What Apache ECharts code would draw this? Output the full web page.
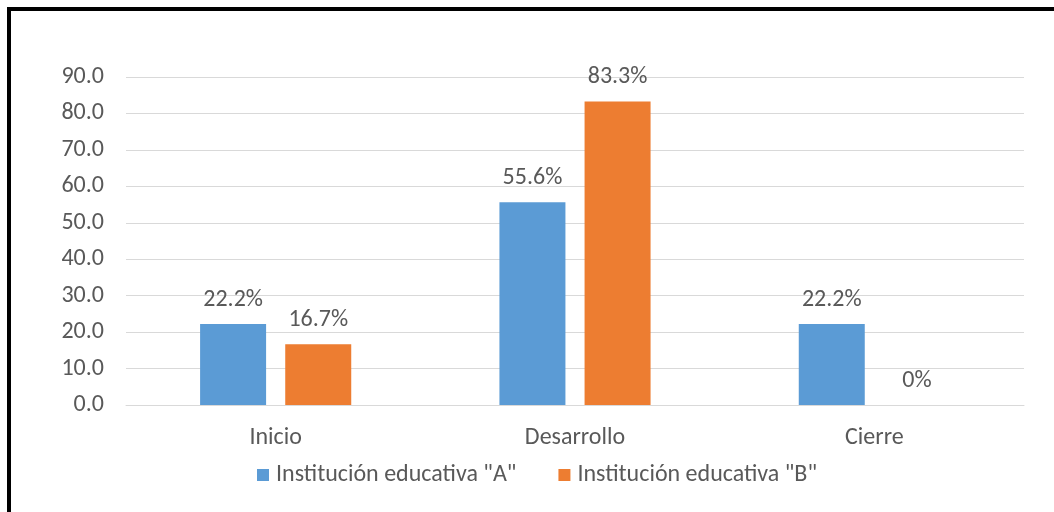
<!DOCTYPE html>
<html>
<head>
<meta charset="utf-8">
<script src="https://cdn.jsdelivr.net/npm/echarts@6/dist/echarts.min.js"></script>
<style>
  html, body { margin: 0; padding: 0; background: #fff; overflow: hidden; }
  #frame { position: absolute; left: 7px; top: 7px; width: 1100px; height: 600px;
           border: 4px solid #000; box-sizing: border-box; }
  #chart { position: absolute; left: 0; top: 0; width: 1054px; height: 512px; }
</style>
</head>
<body>
<div id="frame"></div>
<div id="chart"></div>
<script>
const categories = ['Inicio', 'Desarrollo', 'Cierre'];
const seriesNames = ['Institución educativa "A"', 'Institución educativa "B"'];
const valuesA = [22.2, 55.6, 22.2];
const valuesB = [16.7, 83.3, 0];

const font = 'Calibri, Carlito, "Open Sans", sans-serif';
const textColor = '#595959';
const fontSize = 24;

const chart = echarts.init(document.getElementById('chart'), null, { renderer: 'canvas' });

const label = {
  show: true,
  position: 'top',
  distance: 12,
  color: textColor,
  fontSize: fontSize,
  fontFamily: font,
  formatter: p => p.value + '%'
};

chart.setOption({
  animation: false,
  textStyle: { fontFamily: font },
  grid: { left: 126, right: 30, top: 77, bottom: 107, containLabel: false },
  legend: {
    bottom: 20,
    left: 252,
    itemWidth: 12,
    itemHeight: 12,
    itemGap: 42,
    icon: 'rect',
    textStyle: { color: textColor, fontSize: fontSize, fontFamily: font, padding: [0, 0, 0, 2] },
    data: seriesNames
  },
  xAxis: {
    type: 'category',
    data: categories,
    axisLine: { lineStyle: { color: '#d9d9d9', width: 1 } },
    axisTick: { show: false },
    axisLabel: { color: textColor, fontSize: fontSize, fontFamily: font, margin: 21 }
  },
  yAxis: {
    type: 'value',
    min: 0,
    max: 90,
    interval: 10,
    axisLine: { show: false },
    axisTick: { show: false },
    splitLine: { lineStyle: { color: '#d9d9d9', width: 1 } },
    axisLabel: { color: textColor, fontSize: fontSize, fontFamily: font, margin: 22,
                 formatter: v => v.toFixed(1) }
  },
  series: [
    { name: seriesNames[0], type: 'bar', data: valuesA, barWidth: 66, barGap: '29%',
      itemStyle: { color: '#5b9bd5' }, label },
    { name: seriesNames[1], type: 'bar', data: valuesB, barWidth: 66, barGap: '29%',
      itemStyle: { color: '#ed7d31' }, label }
  ]
});
</script>
</body>
</html>
